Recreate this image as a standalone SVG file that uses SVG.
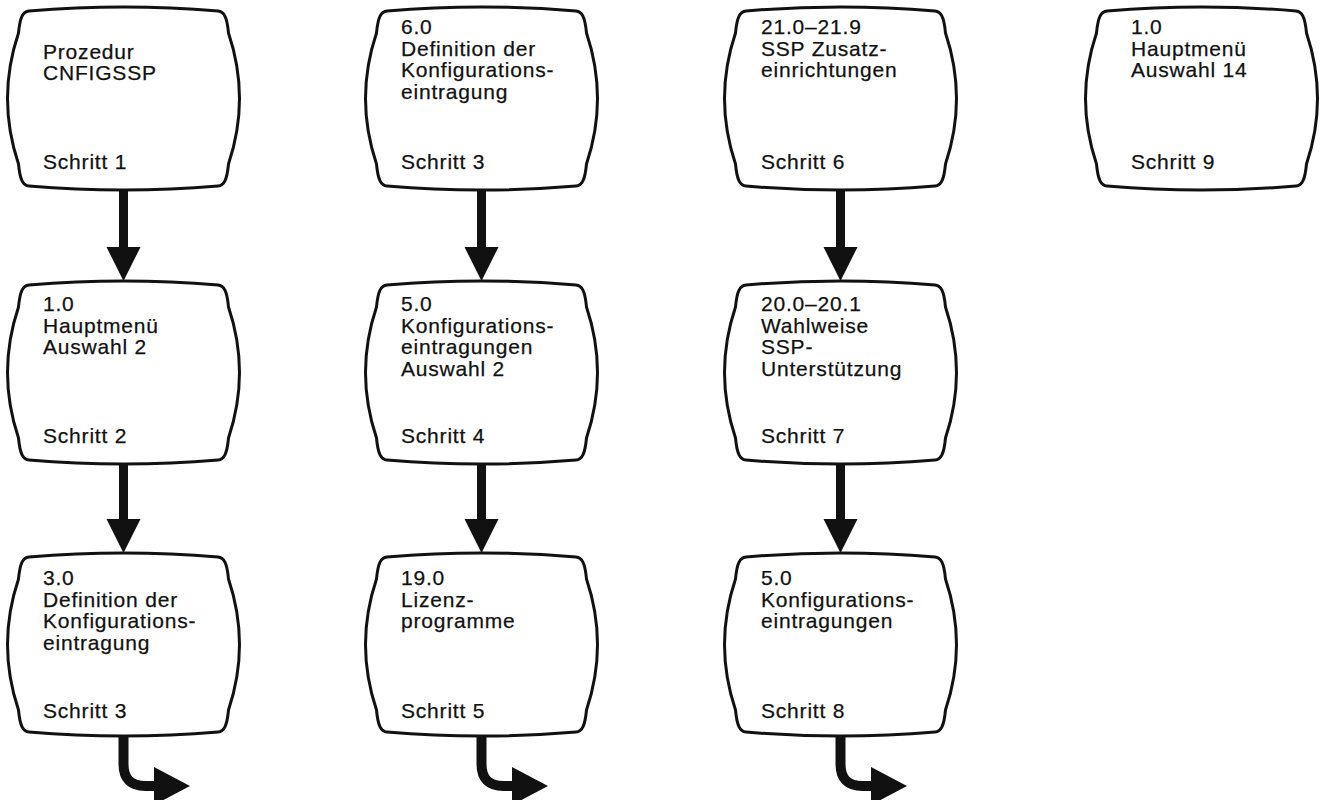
<svg xmlns="http://www.w3.org/2000/svg" xmlns:xlink="http://www.w3.org/1999/xlink" width="1323" height="800" viewBox="0 0 1323 800">
<style>
.box{fill:#fff;stroke:#111;stroke-width:3;stroke-linejoin:round}
.t{font-family:"Liberation Sans",Arial,Helvetica,sans-serif;font-size:21px;letter-spacing:0.8px;fill:#111;stroke:#111;stroke-width:0.25}
.arr{fill:#111;stroke:none}
.bend{fill:none;stroke:#111;stroke-width:10}
</style>
<defs>
<path id="tv" d="M 22,4 Q 116.5,-4 211,4 C 217,4.5 220,10 221.5,26 Q 243.5,91.5 221.5,157 C 220,173 217,178.5 211,179 Q 116.5,187 22,179 C 16,178.5 13,173 11.5,157 Q -10.5,91.5 11.5,26 C 13,10 16,4.5 22,4 Z"/>
</defs>
<rect width="1323" height="800" fill="#fff"/>

<g id="connectors">
<path class="arr" d="M119,188 L128,188 L128,247 L140.5,247 L123.5,281 L106.5,247 L119,247 Z"/>
<path class="arr" d="M119,462 L128,462 L128,519 L140.5,519 L123.5,553 L106.5,519 L119,519 Z"/>
<path class="bend" d="M123.5,734 L123.5,764 Q123.5,786 145.5,786 L158,786"/>
<path class="arr" d="M154,767 L154,805 L190,786 Z"/>

<path class="arr" d="M477,188 L486,188 L486,247 L498.5,247 L481.5,281 L464.5,247 L477,247 Z"/>
<path class="arr" d="M477,462 L486,462 L486,519 L498.5,519 L481.5,553 L464.5,519 L477,519 Z"/>
<path class="bend" d="M481.5,734 L481.5,764 Q481.5,786 503.5,786 L516,786"/>
<path class="arr" d="M512,767 L512,805 L548,786 Z"/>

<path class="arr" d="M836,188 L845,188 L845,247 L857.5,247 L840.5,281 L823.5,247 L836,247 Z"/>
<path class="arr" d="M836,462 L845,462 L845,519 L857.5,519 L840.5,553 L823.5,519 L836,519 Z"/>
<path class="bend" d="M840.5,734 L840.5,764 Q840.5,786 862.5,786 L875,786"/>
<path class="arr" d="M871,767 L871,805 L907,786 Z"/>
</g>

<g id="n1">
<use xlink:href="#tv" href="#tv" class="box" x="7" y="7"/>
<text class="t"><tspan x="43" y="58.5">Prozedur</tspan><tspan x="43" y="80">CNFIGSSP</tspan><tspan x="43" y="169">Schritt 1</tspan></text>
</g>
<g id="n2">
<use xlink:href="#tv" href="#tv" class="box" x="7" y="281"/>
<text class="t"><tspan x="43" y="311">1.0</tspan><tspan x="43" y="332.5">Hauptmenü</tspan><tspan x="43" y="354">Auswahl 2</tspan><tspan x="43" y="443">Schritt 2</tspan></text>
</g>
<g id="n3">
<use xlink:href="#tv" href="#tv" class="box" x="7" y="553"/>
<text class="t"><tspan x="43" y="585">3.0</tspan><tspan x="43" y="606.5">Definition der</tspan><tspan x="43" y="628">Konfigurations-</tspan><tspan x="43" y="649.5">eintragung</tspan><tspan x="43" y="718">Schritt 3</tspan></text>
</g>

<g id="n4">
<use xlink:href="#tv" href="#tv" class="box" x="365" y="7"/>
<text class="t"><tspan x="401" y="34">6.0</tspan><tspan x="401" y="55.5">Definition der</tspan><tspan x="401" y="77">Konfigurations-</tspan><tspan x="401" y="98.5">eintragung</tspan><tspan x="401" y="169">Schritt 3</tspan></text>
</g>
<g id="n5">
<use xlink:href="#tv" href="#tv" class="box" x="365" y="281"/>
<text class="t"><tspan x="401" y="311">5.0</tspan><tspan x="401" y="332.5">Konfigurations-</tspan><tspan x="401" y="354">eintragungen</tspan><tspan x="401" y="375.5">Auswahl 2</tspan><tspan x="401" y="443">Schritt 4</tspan></text>
</g>
<g id="n6">
<use xlink:href="#tv" href="#tv" class="box" x="365" y="553"/>
<text class="t"><tspan x="401" y="585">19.0</tspan><tspan x="401" y="606.5">Lizenz-</tspan><tspan x="401" y="628">programme</tspan><tspan x="401" y="718">Schritt 5</tspan></text>
</g>

<g id="n7">
<use xlink:href="#tv" href="#tv" class="box" x="724" y="7"/>
<text class="t"><tspan x="761" y="34">21.0–21.9</tspan><tspan x="761" y="55.5">SSP Zusatz-</tspan><tspan x="761" y="77">einrichtungen</tspan><tspan x="761" y="169">Schritt 6</tspan></text>
</g>
<g id="n8">
<use xlink:href="#tv" href="#tv" class="box" x="724" y="281"/>
<text class="t"><tspan x="761" y="311">20.0–20.1</tspan><tspan x="761" y="332.5">Wahlweise</tspan><tspan x="761" y="354">SSP-</tspan><tspan x="761" y="375.5">Unterstützung</tspan><tspan x="761" y="443">Schritt 7</tspan></text>
</g>
<g id="n9">
<use xlink:href="#tv" href="#tv" class="box" x="724" y="553"/>
<text class="t"><tspan x="761" y="585">5.0</tspan><tspan x="761" y="606.5">Konfigurations-</tspan><tspan x="761" y="628">eintragungen</tspan><tspan x="761" y="718">Schritt 8</tspan></text>
</g>

<g id="n10">
<use xlink:href="#tv" href="#tv" class="box" x="1085" y="7"/>
<text class="t"><tspan x="1131" y="34">1.0</tspan><tspan x="1131" y="55.5">Hauptmenü</tspan><tspan x="1131" y="77">Auswahl 14</tspan><tspan x="1131" y="169">Schritt 9</tspan></text>
</g>
</svg>
